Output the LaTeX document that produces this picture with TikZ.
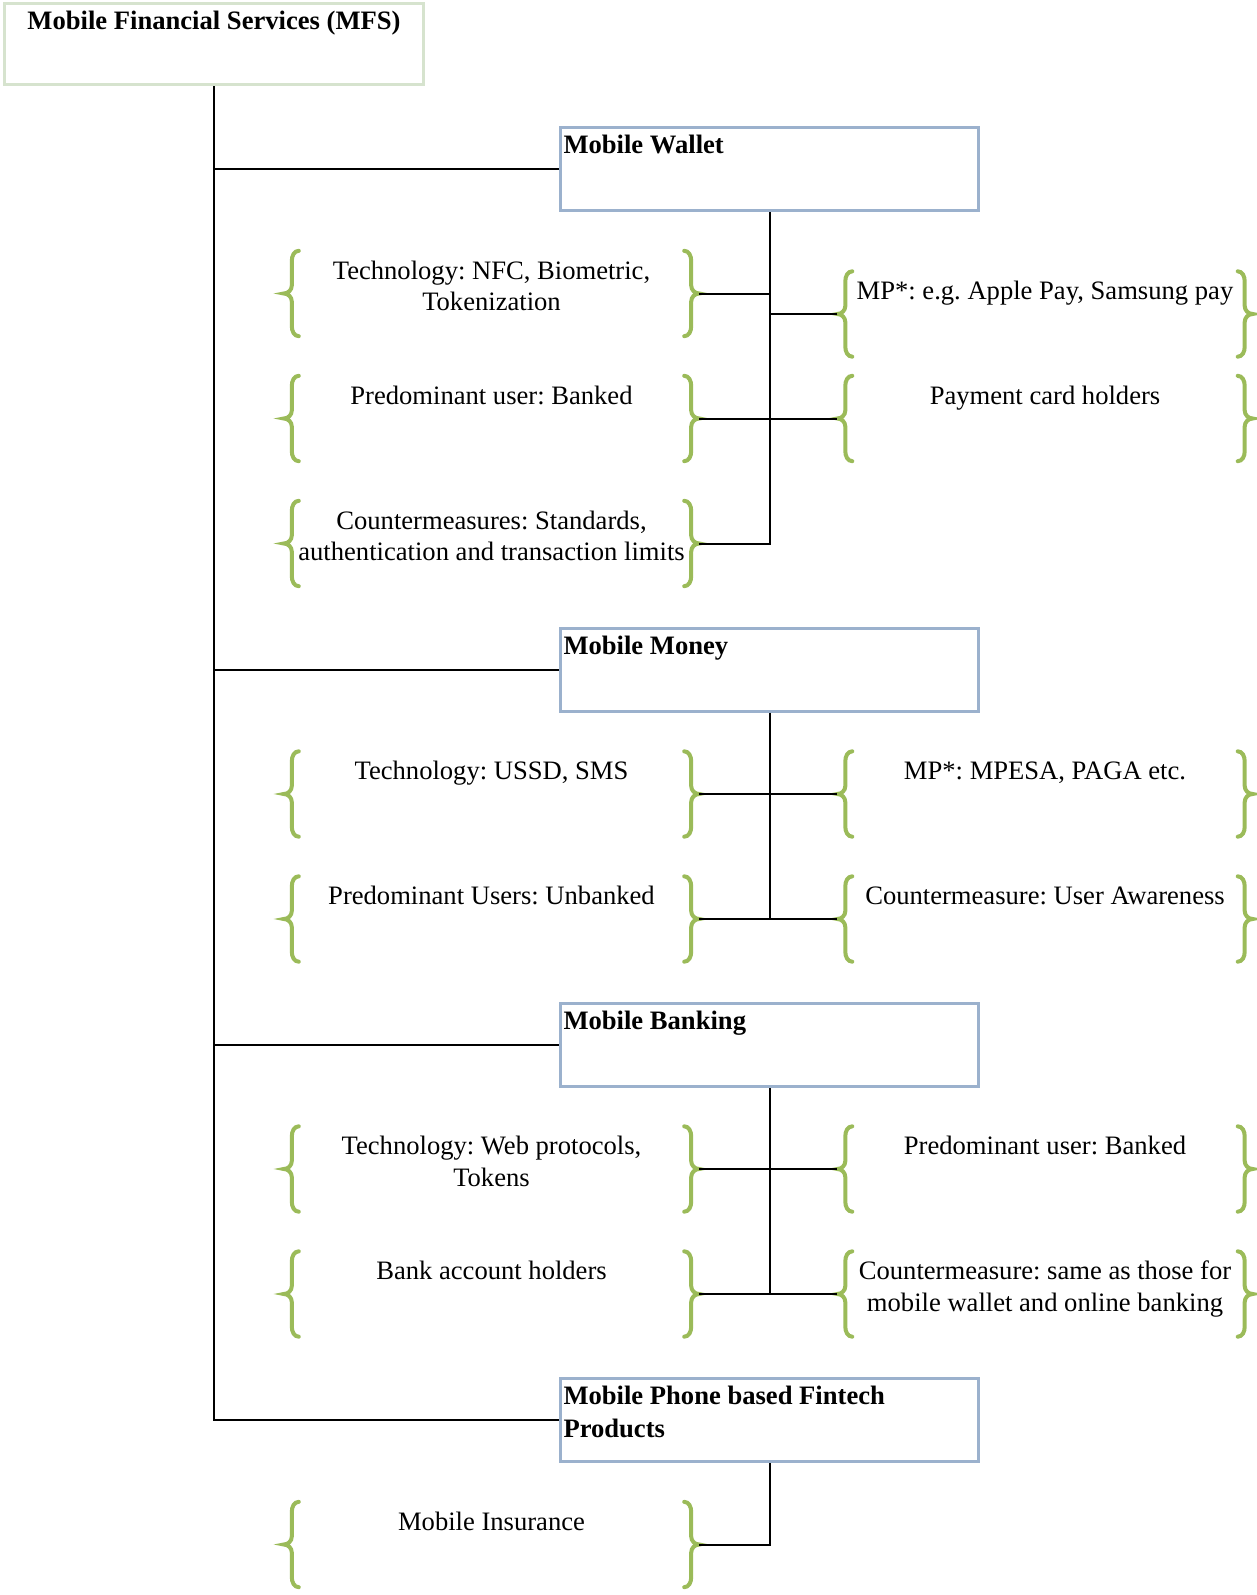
\documentclass[tikz,border=0pt]{standalone}
\usepackage{fontspec}
\setmainfont{Liberation Serif}
\usetikzlibrary{calc}
\frenchspacing
\definecolor{bracegreen}{RGB}{155,187,89}
\definecolor{boxblue}{RGB}{155,177,205}
\definecolor{boxgreen}{RGB}{214,227,206}
\newcommand{\bracetext}[1]{\begin{minipage}[t][85pt][t]{400pt}\frenchspacing\centering\rule{0pt}{28pt}#1\end{minipage}}
\newcommand{\titletext}[1]{\begin{minipage}[t][83pt][t]{412pt}\frenchspacing\raggedright\rule{0pt}{26pt}\bfseries #1\end{minipage}}
\newcommand{\mylbrace}[1]{%
  \draw[bracestyle] ($(#1.north west)+(15pt,0pt)$) to[out=180,in=90] ++(-7pt,-10pt)
    -- ($(#1.west)+(8pt,8pt)$) to[out=-90,in=0] ++(-8pt,-8pt)
    to[out=0,in=90] ++(8pt,-8pt) -- ($(#1.south west)+(8pt,10pt)$)
    to[out=-90,in=180] ++(7pt,-10pt);}
\newcommand{\myrbrace}[1]{%
  \draw[bracestyle] ($(#1.north east)+(-15pt,0pt)$) to[out=0,in=90] ++(7pt,-10pt)
    -- ($(#1.east)+(-8pt,8pt)$) to[out=-90,in=180] ++(8pt,-8pt)
    to[out=180,in=90] ++(-8pt,-8pt) -- ($(#1.south east)+(-8pt,10pt)$)
    to[out=-90,in=0] ++(-7pt,-10pt);}
\begin{document}
\begin{tikzpicture}[x=1pt,y=-1pt,
  every node/.style={font=\fontsize{26.6pt}{31.5pt}\selectfont},
  bnode/.style={rectangle, inner sep=0pt, minimum width=415pt, minimum height=85pt},
  tbox/.style={rectangle, draw=boxblue, line width=3pt, inner xsep=3pt, inner ysep=0pt, anchor=north west},
  bracestyle/.style={draw=bracegreen, line width=4pt, line cap=round},
  conn/.style={draw=black, line width=2pt}]
\useasboundingbox (0,0) rectangle (1256,1595);

% top box
\node[draw=boxgreen, line width=3pt, inner xsep=3pt, inner ysep=0pt, anchor=north west] (mfs) at (3,2)
  {\begin{minipage}[t][81pt][t]{413pt}\centering\rule{0pt}{26pt}\bfseries Mobile Financial Services (MFS)\end{minipage}};

% category boxes
\node[tbox] (wal) at (559,126) {\titletext{Mobile Wallet}};
\node[tbox] (mon) at (559,626.5) {\titletext{Mobile Money}};
\node[tbox] (ban) at (559,1002) {\titletext{Mobile Banking}};
\node[tbox] (fin) at (559,1377) {\titletext{\fontsize{26.6pt}{32.5pt}\selectfont Mobile Phone based Fintech\\Products}};

% Mobile Wallet items
\node[bnode] (wL1) at (491.5,293.5) {\bracetext{Technology: NFC, Biometric,\\Tokenization}};
\node[bnode] (wR1) at (1045,314) {\bracetext{MP*: e.g. Apple Pay, Samsung pay}};
\node[bnode] (wL2) at (491.5,418.5) {\bracetext{Predominant user: Banked}};
\node[bnode] (wR2) at (1045,418.5) {\bracetext{Payment card holders}};
\node[bnode] (wL3) at (491.5,543.5) {\bracetext{Countermeasures: Standards,\\authentication and transaction limits}};

% Mobile Money items
\node[bnode] (mL1) at (491.5,794) {\bracetext{Technology: USSD, SMS}};
\node[bnode] (mR1) at (1045,794) {\bracetext{MP*: MPESA, PAGA etc.}};
\node[bnode] (mL2) at (491.5,919) {\bracetext{Predominant Users: Unbanked}};
\node[bnode] (mR2) at (1045,919) {\bracetext{Countermeasure: User Awareness}};

% Mobile Banking items
\node[bnode] (bL1) at (491.5,1169) {\bracetext{Technology: Web protocols,\\Tokens}};
\node[bnode] (bR1) at (1045,1169) {\bracetext{Predominant user: Banked}};
\node[bnode] (bL2) at (491.5,1294) {\bracetext{Bank account holders}};
\node[bnode] (bR2) at (1045,1294) {\bracetext{Countermeasure: same as those for\\mobile wallet and online banking}};

% Fintech items
\node[bnode] (fL1) at (491.5,1544.5) {\bracetext{Mobile Insurance}};

% braces
\foreach \n in {wL1,wR1,wL2,wR2,wL3,mL1,mR1,mL2,mR2,bL1,bR1,bL2,bR2,fL1} {\mylbrace{\n}\myrbrace{\n}}

% main trunk
\draw[conn] (mfs.south) -- (mfs.south |- fin.west) -- (fin.west);
\draw[conn] (mfs.south |- wal.west) -- (wal.west);
\draw[conn] (mfs.south |- mon.west) -- (mon.west);
\draw[conn] (mfs.south |- ban.west) -- (ban.west);

% wallet
\draw[conn] (wal.south) -- (wal.south |- wL3.east) -- (wL3.east);
\draw[conn] (wL1.east) -- (wal.south |- wL1.east);
\draw[conn] (wR1.west) -- (wal.south |- wR1.west);
\draw[conn] (wL2.east) -- (wR2.west);

% money
\draw[conn] (mon.south) -- (mon.south |- mL2.east);
\draw[conn] (mL1.east) -- (mR1.west);
\draw[conn] (mL2.east) -- (mR2.west);

% banking
\draw[conn] (ban.south) -- (ban.south |- bL2.east);
\draw[conn] (bL1.east) -- (bR1.west);
\draw[conn] (bL2.east) -- (bR2.west);

% fintech
\draw[conn] (fin.south) -- (fin.south |- fL1.east) -- (fL1.east);
\end{tikzpicture}
\end{document}
